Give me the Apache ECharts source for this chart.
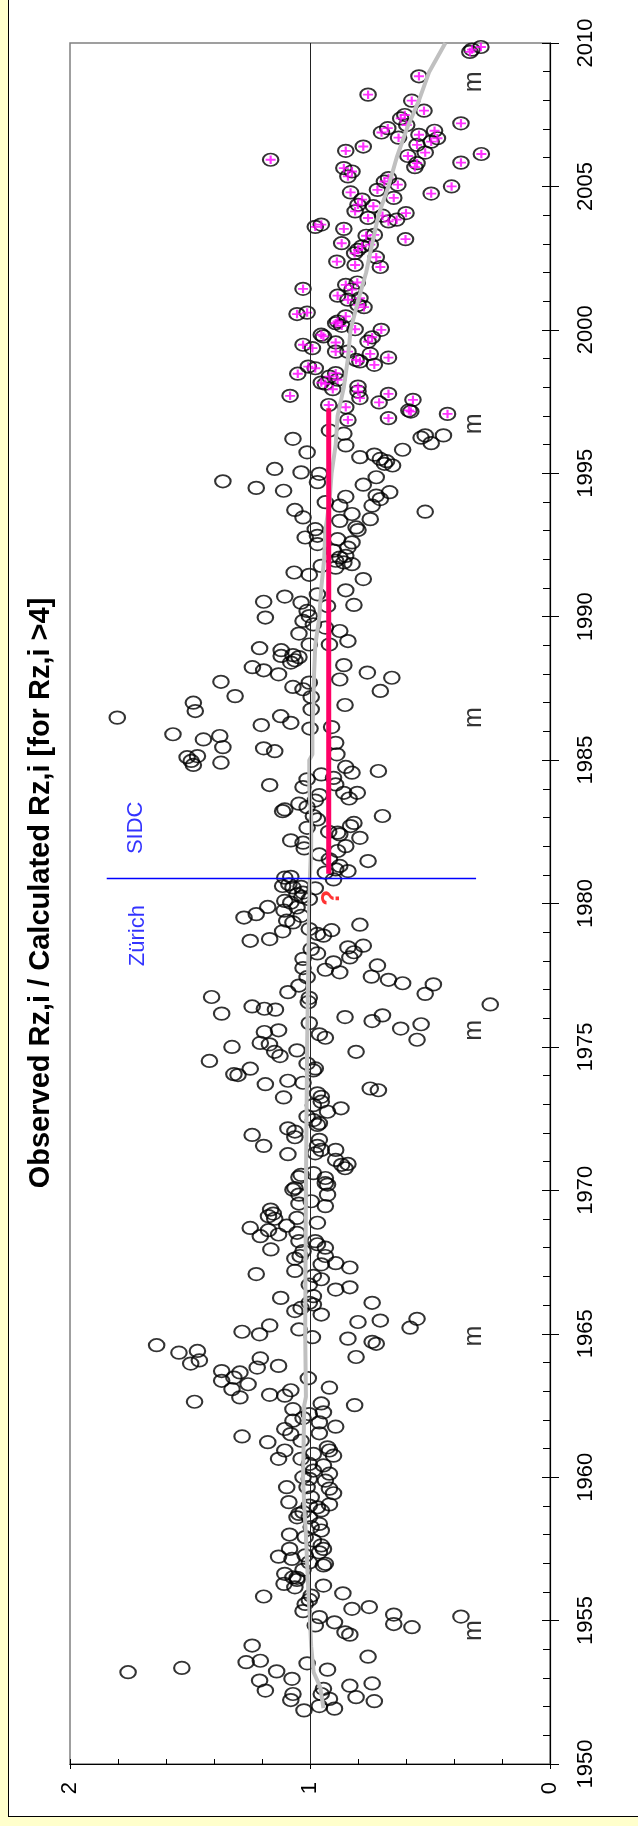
<!DOCTYPE html>
<html>
<head>
<meta charset="utf-8">
<script src="https://cdn.jsdelivr.net/npm/echarts@6/dist/echarts.min.js"></script>
<style>
  html, body { margin: 0; padding: 0; background: #FFFFCC; }
  #frame { position: absolute; left: 8px; top: -4px; width: 660px; height: 1821px; background: #ffffff; border: 1px solid #000; box-sizing: border-box; }
  #chart { position: absolute; left: 0; top: 0; width: 638px; height: 1826px; }
</style>
</head>
<body>
<div id="frame"></div>
<div id="chart"></div>
<script>
// ---- Data: [year, observed/calculated ratio] ----
// Months with magenta "+" (recent SIDC values)
const obsPlus = [
 [2009.77,0.325],[2009.86,0.288],[2009.69,0.334],[2008.84,0.546],[2008.20,0.758],[2007.99,0.576],[2007.64,0.525],
 [2007.49,0.605],[2007.37,0.622],[2007.14,0.597],[2007.20,0.371],[2006.88,0.702],[2007.03,0.676],[2006.94,0.481],
 [2006.70,0.631],[2006.80,0.546],[2006.45,0.554],[2006.56,0.495],[2006.68,0.469],[2006.39,0.778],[2006.24,0.851],
 [2006.18,0.520],[2006.13,0.286],[2006.06,0.592],[2005.81,0.554],[2005.67,0.563],[2005.93,1.164],[2005.64,0.859],
 [2005.52,0.825],[2005.35,0.842],[2005.83,0.371],[2005.29,0.673],[2005.17,0.690],[2005.06,0.634],[2005.00,0.410],
 [2004.79,0.831],[2004.88,0.719],[2004.75,0.495],[2004.60,0.651],[2004.54,0.783],[2004.36,0.800],[2004.13,0.812],
 [2004.31,0.736],[2004.07,0.600],[2003.90,0.758],[2003.98,0.698],[2003.78,0.673],[2003.84,0.639],[2003.59,0.978],
 [2003.67,0.953],[2003.52,0.859],[2003.16,0.602],[2003.02,0.868],[2003.28,0.766],[2003.31,0.732],[2002.79,0.800],
 [2002.67,0.814],[2002.91,0.783],[2002.97,0.749],[2002.53,0.724],[2002.19,0.707],[2002.38,0.888],[2002.26,0.812],
 [2001.43,1.029],[2001.65,0.803],[2001.57,0.851],[2001.40,0.825],[2001.19,0.885],[2001.05,0.842],[2001.10,0.792],
 [2000.79,0.775],[2000.87,0.800],[2000.55,1.054],[2000.60,1.012],[2000.47,0.851],[2000.29,0.885],[2000.14,0.868],
 [2000.23,0.893],[2000.02,0.812],[2000.00,0.703],[1999.83,0.953],[1999.77,0.944],[1999.74,0.741],[1999.59,0.758],
 [1999.48,1.029],[1999.36,0.990],[1999.56,0.893],[1999.24,0.893],[1999.24,0.842],[1999.16,0.749],[1999.03,0.673],
 [1998.95,0.808],[1998.90,0.792],[1998.78,0.732],[1998.72,1.007],[1998.66,0.978],[1998.47,1.051],[1998.37,0.919],
 [1998.49,0.893],[1998.26,0.885],[1998.16,0.953],[1998.12,0.936],[1997.93,0.905],[1998.02,0.800],[1997.85,0.800],
 [1997.62,0.792],[1997.70,1.083],[1997.77,0.673],[1997.47,0.712],[1997.56,0.571],[1997.38,0.922],[1997.30,0.851],
 [1997.19,0.588],[1997.15,0.580],[1997.07,0.427],[1996.92,0.673],[1996.86,0.842]
];
// Other months (circles only)
const obsCircle = [
 [1996.49,0.919],[1996.38,0.859],[1995.97,0.851],[1996.32,0.520],[1996.05,0.495],[1996.32,0.444],[1996.24,0.537],
 [1996.20,1.071],[1995.73,1.012],[1995.82,0.614],[1995.56,0.792],[1995.65,0.732],[1995.50,0.707],[1995.42,0.681],
 [1995.27,0.656],[1995.33,0.690],[1995.15,1.147],[1995.03,1.037],[1994.98,0.961],[1994.69,0.969],[1994.72,1.363],
 [1994.49,1.224],[1994.39,1.110],[1994.86,0.724],[1994.60,0.778],[1994.34,0.668],[1994.22,0.724],[1994.10,0.707],
 [1994.18,0.851],[1993.99,0.936],[1993.87,0.876],[1993.87,0.741],[1993.66,0.520],[1993.72,1.063],[1993.46,1.029],
 [1993.58,0.825],[1993.34,0.876],[1993.40,0.749],[1993.11,0.808],[1993.02,0.800],[1993.05,0.978],[1992.82,0.969],
 [1992.76,1.020],[1992.70,0.885],[1992.59,0.825],[1992.41,0.842],[1992.53,0.969],[1992.30,0.902],[1992.06,0.876],
 [1992.12,0.851],[1991.95,0.893],[1991.89,0.859],[1991.83,0.825],[1991.77,0.953],[1991.71,0.893],[1991.54,1.066],
 [1991.46,1.003],[1991.31,0.778],[1990.92,0.851],[1990.78,0.969],[1990.37,0.927],[1990.70,1.105],[1990.52,1.193],
 [1990.49,1.037],[1990.20,1.012],[1990.02,1.003],[1989.85,1.029],[1990.41,0.817],[1989.97,1.186],[1989.73,0.986],
 [1989.62,0.936],[1989.50,0.876],[1989.15,0.842],[1989.41,1.046],
 [1988.90,1.210],[1988.83,1.120],[1988.63,1.120],[1988.66,1.071],[1988.59,1.046],[1988.40,1.080],[1988.48,1.063],
 [1989.03,1.003],[1989.03,0.919],[1988.24,1.240],[1988.13,1.193],[1987.99,1.131],[1988.31,0.859],[1988.05,0.761],
 [1987.87,0.659],[1987.81,0.876],[1987.73,1.371],[1987.55,1.071],[1987.47,1.029],[1987.70,1.003],[1987.20,0.995],
 [1987.41,0.707],[1987.23,1.312],[1987.00,1.486],[1986.71,1.478],[1986.77,0.995],[1986.92,0.854],[1986.48,1.803],
 [1986.53,1.122],[1986.30,1.080],[1986.22,1.203],[1986.10,1.000],[1986.15,0.910],[1985.90,1.571],[1985.72,1.444],
 [1985.84,1.376],[1985.45,1.363],[1985.60,0.893],[1985.20,0.888],[1985.41,1.193],[1985.31,1.147],[1985.10,1.512],
 [1984.97,1.495],[1985.14,1.469],[1984.83,1.486],[1984.91,1.371],[1984.76,0.851],[1984.56,0.825],[1984.62,0.715],
 [1984.50,0.953],[1984.38,0.902],[1984.33,1.012],[1984.15,0.893],[1984.06,1.029],[1984.13,1.168],[1983.86,0.859],
 [1983.86,0.803],[1983.66,0.837],[1983.78,0.961],[1983.59,0.978],[1983.48,1.046],[1983.28,1.105],[1983.22,1.114],
 [1983.36,1.012],[1983.05,0.986],[1982.93,0.969],[1983.05,0.698],[1982.81,0.817],[1982.70,0.831],[1982.64,1.012],
 [1982.50,0.922],[1982.47,0.885],[1982.41,0.876],[1982.29,0.792],[1982.00,0.851],[1982.20,1.080],[1982.12,1.029],
 [1981.92,1.024],[1981.71,0.961],[1981.83,0.885],[1981.48,0.758],
 [1981.54,0.919],[1981.31,0.876],[1981.13,0.842],[1981.19,0.893],[1980.84,0.902],[1981.08,0.936],[1980.53,0.978],
 [1980.90,1.105],[1980.93,1.080],[1980.61,1.114],[1980.67,1.088],[1980.56,1.071],[1980.58,1.037],[1980.32,1.054],
 [1980.38,1.029],[1980.15,1.003],[1980.09,1.105],[1980.03,1.080],[1979.86,1.054],[1980.23,1.034],[1979.51,1.275],
 [1979.63,1.224],[1979.88,1.176],[1979.75,1.108],[1979.40,1.097],[1979.34,1.071],[1979.57,1.037],[1979.26,0.792],
 [1979.11,1.003],[1978.88,0.944],[1979.07,0.910],[1978.94,0.969],[1978.70,1.249],[1978.76,1.168],[1979.03,1.114],
 [1978.41,0.995],[1978.47,0.842],[1978.30,0.817],[1978.12,0.834],[1978.53,0.778],[1978.07,1.029],[1978.26,0.969],
 [1977.75,1.029],[1977.95,0.902],[1977.69,0.936],[1977.60,0.876],[1977.84,0.719],[1977.45,0.744],[1977.34,0.673],
 [1977.22,0.614],[1977.43,1.012],[1977.14,1.046],[1976.91,1.092],[1977.18,0.486],[1976.85,0.520],[1976.74,1.410],
 [1976.71,1.003],[1976.56,1.007],[1976.41,1.241],[1976.33,1.190],[1976.30,1.144],[1976.16,1.368],[1976.48,0.249],
 [1976.04,0.854],[1975.90,0.741],[1976.10,0.698],[1975.83,1.003],[1975.64,0.622],[1975.79,0.537],[1975.25,0.554],
 [1975.52,1.190],[1975.58,1.131],[1975.44,0.961],[1975.32,0.936],[1975.14,1.207],[1975.09,1.169],[1975.00,1.325],
 [1974.88,1.054],[1974.83,0.808],[1974.83,1.147],[1974.68,1.125],[1974.51,1.419],[1974.42,1.012],[1974.25,0.978],
 [1974.05,1.317],[1974.02,1.300],[1974.24,1.249],[1973.70,1.186],[1973.82,1.092],[1973.75,1.029],[1974.18,0.986],
 [1973.24,1.110],[1973.55,0.749],[1973.49,0.715],[1973.38,0.969],[1973.26,0.953],[1972.97,0.986],[1973.09,0.953],
 [1972.86,0.871],[1972.74,0.927],[1972.57,1.012],[1972.45,0.986],[1972.34,0.961],[1972.28,0.969],[1971.93,1.241],
 [1971.55,1.193],[1972.16,1.092],[1972.05,1.063],[1971.85,1.063],[1971.76,0.961],[1971.55,0.969],[1971.29,0.978],
 [1971.41,0.953],[1971.26,1.092],[1971.41,0.893],[1971.06,0.893],[1970.89,0.868],[1970.92,0.842],[1970.77,0.854],
 [1970.54,1.037],[1970.46,1.046],[1970.60,0.986],[1970.43,0.936],[1970.25,0.936],[1970.20,0.927],[1970.08,1.063],
 [1970.02,1.071],[1969.85,1.046],[1969.85,0.927],[1969.45,0.936],[1969.54,1.046],[1969.62,0.995],[1969.33,1.164],
 [1969.19,1.153],[1969.10,1.173],[1969.01,1.147],[1969.04,1.054],[1968.87,0.969],[1968.69,1.249],[1968.40,1.207],
 [1968.61,1.173],[1968.46,1.131],[1968.77,1.097],[1968.52,1.054],[1968.23,1.046],[1968.23,0.978],[1968.12,0.969],
 [1968.00,0.936],[1967.94,1.163],[1967.88,1.029],[1967.62,1.063],[1967.71,1.041],[1967.71,0.936],[1967.42,0.953],
 [1967.46,0.893],[1967.31,0.834],[1967.08,1.224],[1967.19,1.063],[1967.02,0.986],[1966.90,0.953],
 [1966.54,0.893],[1966.62,0.834],[1966.71,1.003],[1966.25,1.122],[1966.31,0.986],[1966.08,1.003],[1966.08,0.741],
 [1965.79,1.063],[1965.90,1.037],[1966.02,0.986],[1965.67,0.953],[1965.41,0.800],[1965.46,0.707],[1965.21,0.583],
 [1965.52,0.554],[1965.29,1.168],[1965.07,1.283],[1964.98,1.210],[1965.15,1.046],[1964.88,0.990],[1964.83,0.842],
 [1964.72,0.741],[1964.65,0.724],[1964.60,1.639],[1964.34,1.546],[1964.40,1.469],[1963.96,1.497],[1964.07,1.461],
 [1964.19,0.808],[1964.14,1.207],[1963.82,1.220],[1963.88,1.131],[1963.70,1.368],[1963.65,1.292],[1963.47,1.317],
 [1963.36,1.368],[1963.24,1.258],[1963.07,1.325],[1962.78,1.292],[1962.63,1.481],[1963.45,1.007],[1963.12,0.919],
 [1962.87,1.168],[1962.84,1.105],[1963.03,1.080],[1962.51,0.814],[1962.57,0.953],[1962.26,0.944],[1962.37,1.071],
 [1962.20,1.003],[1962.06,1.029],[1961.97,1.071],[1961.68,1.105],[1961.50,1.080],[1961.91,0.961],[1961.76,0.893],
 [1961.53,0.961],[1961.42,1.283],[1961.22,1.176],[1961.27,1.037],[1961.04,0.927],[1960.93,0.919],[1960.75,0.902],
 [1960.93,1.105],[1960.64,1.131],[1960.81,0.986],[1960.64,1.037],[1960.46,1.003],[1960.23,0.986],[1960.41,0.944],
 [1960.12,0.919],[1960.00,1.029],[1959.94,1.003],[1959.88,0.936],[1959.65,1.097],[1959.60,0.919],[1959.65,1.012],
 [1959.44,0.902],[1959.13,1.088],[1959.30,0.995],[1959.01,1.003],[1959.05,0.919],[1958.84,0.953],[1958.78,1.029],
 [1958.72,1.046],[1958.95,0.969],[1958.60,1.054],[1958.60,1.003],[1958.37,0.961],[1958.26,0.995],[1958.14,0.953],
 [1958.00,1.085],[1957.91,1.020],[1957.79,0.986],[1957.62,0.953],[1957.38,0.961],[1957.50,0.944],[1957.50,1.085],
 [1957.23,1.131],[1957.15,1.075],[1957.27,1.020],[1957.03,1.003],[1956.98,0.936],[1956.92,0.944],[1956.63,1.105],
 [1956.51,1.071],[1956.42,1.054],[1956.77,1.029],[1956.28,1.108],[1956.16,1.063],[1956.49,1.054],[1956.22,0.944],
 [1955.95,0.863],[1955.84,1.193],[1955.87,0.995],[1955.72,1.003],[1955.58,1.020],[1955.33,1.029],[1955.41,0.825],
 [1955.47,0.753],[1955.21,0.651],[1954.88,0.651],[1954.77,0.575],[1955.14,0.371],[1955.12,0.961],[1954.83,0.978],
 [1954.94,0.898],[1954.59,0.854],[1954.51,0.834],[1954.13,1.241],[1953.74,0.758],[1953.55,1.266],[1953.60,1.207],
 [1953.51,1.012],[1953.20,1.758],[1953.35,1.534],[1953.23,1.139],[1953.29,0.927],[1952.97,1.075],[1952.91,1.210],
 [1952.56,1.186],[1952.73,0.834],[1952.81,0.741],[1952.62,0.944],[1952.44,0.953],[1952.44,1.071],[1952.33,0.808],
 [1952.19,0.732],[1952.27,0.919],[1952.23,1.080],[1951.87,1.025],[1952.02,0.961],[1951.93,0.898]
];
// Smoothed trend (grey line)
const trendYears  = [1951.95,1952.7,1953.2,1954.1,1955,1956,1957,1958,1959,1960,1962.5,1962.8,1965,1970,1975,1978,1980,1981,1982,1983,1984,1985,1985.2,1986,1987,1988,1989,1990,1991,1992,1993,1994,1995,1996,1997,1998,1999,2000,2001,2002,2003,2004,2005,2006,2007,2008,2009,2010];
const trendRatios = [0.944,0.958,0.985,0.995,1.000,1.007,1.012,1.017,1.024,1.029,1.024,1.017,1.020,1.017,1.012,1.007,1.003,1.000,0.995,0.995,1.003,1.003,0.990,0.990,0.986,0.983,0.978,0.961,0.953,0.941,0.936,0.919,0.910,0.893,0.885,0.859,0.842,0.831,0.800,0.766,0.741,0.715,0.673,0.639,0.597,0.546,0.503,0.436];
// SIDC level segment (red) and Zürich/SIDC boundary (blue)
const sidcLevelRatio = 0.922;
const sidcLevelYears = [1981.04, 1997.27];
const boundaryYear = 1980.87;
const boundaryRatios = [1.847, 0.308];
// Solar minima markers "m"
const minimaYears = [1954.65, 1964.92, 1975.58, 1986.48, 1996.72, 2008.65];
const minimaRatio = 0.317;
// Text annotations
const annotTexts  = ['Zürich', 'SIDC'];
const annotYears  = [1978.88, 1982.64];
const annotRatios = [1.715, 1.724];
const questionPoint = [0.907, 1980.2];
const titleText = 'Observed Rz,i / Calculated Rz,i [for Rz,i >4]';
const yearTicks = { min: 1950, max: 2010, step: 5 };
const ratioTicks = { min: 0, max: 2, step: 1 };

const FONT = '"Liberation Sans", Arial, sans-serif';
const chart = echarts.init(document.getElementById('chart'), null, { renderer: 'canvas' });

const grid = { left: 70, right: 88, top: 43, bottom: 62, show: true, borderColor: '#808080', borderWidth: 1.5, backgroundColor: 'transparent' };

function xAx(extra) {
  return Object.assign({
    type: 'value', min: ratioTicks.min, max: ratioTicks.max, interval: ratioTicks.step, inverse: true, position: 'bottom',
    splitLine: { show: false }
  }, extra);
}
function yAx(extra) {
  return Object.assign({
    type: 'value', min: yearTicks.min, max: yearTicks.max, interval: yearTicks.step, position: 'right',
    splitLine: { show: false }
  }, extra);
}

const circleStyle = { color: 'rgba(0,0,0,0)', borderColor: '#000', borderWidth: 1.9 };

const option = {
  animation: false,
  backgroundColor: 'transparent',
  grid: grid,
  xAxis: [
    xAx({
      axisLine: { show: true, lineStyle: { color: '#000', width: 1.2 } },
      axisTick: { show: true, inside: true, length: 5, lineStyle: { color: '#000', width: 1 } },
      minorTick: { show: true, splitNumber: 5, length: 5, lineStyle: { color: '#000', width: 1 } },
      axisLabel: { show: true, rotate: 90, margin: 18, fontSize: 22, color: '#000', fontFamily: FONT }
    }),
    xAx({
      axisLine: { show: false },
      axisTick: { show: true, inside: false, length: 5, lineStyle: { color: '#000', width: 1 } },
      axisLabel: { show: false }
    })
  ],
  yAxis: [
    yAx({
      axisLine: { show: true, lineStyle: { color: '#000', width: 1.2 } },
      axisTick: { show: true, inside: true, length: 8, lineStyle: { color: '#000', width: 1 } },
      minorTick: { show: true, splitNumber: 5, length: 7, lineStyle: { color: '#000', width: 1 } },
      axisLabel: { show: true, rotate: 90, margin: 25, fontSize: 22, color: '#000', fontFamily: FONT,
                   formatter: v => String(v) }
    }),
    yAx({
      axisLine: { show: false },
      axisTick: { show: true, inside: false, length: 9, lineStyle: { color: '#000', width: 1 } },
      axisLabel: { show: false }
    })
  ],
  graphic: [{
    type: 'text', x: 41, y: 893, rotation: Math.PI / 2, silent: true,
    style: { text: titleText, align: 'center', verticalAlign: 'middle', fontSize: 29, fontWeight: 'bold', fill: '#000', fontFamily: FONT }
  }],
  series: [
    { // reference line at ratio = 1
      type: 'line', data: [], silent: true, z: 1,
      markLine: { symbol: 'none', silent: true, label: { show: false },
        lineStyle: { color: '#222', width: 1, type: 'solid' }, data: [{ xAxis: 1 }] }
    },
    { type: 'scatter', name: 'obs', silent: true, z: 2, symbol: 'circle', symbolSize: [15.5, 12.5],
      itemStyle: circleStyle, data: obsCircle.map(p => [p[1], p[0]]) },
    { type: 'scatter', name: 'obsPlusCircle', silent: true, z: 2, symbol: 'circle', symbolSize: [15.5, 12.5],
      itemStyle: circleStyle, data: obsPlus.map(p => [p[1], p[0]]) },
    { type: 'scatter', name: 'plus', silent: true, z: 3, symbol: 'path://M0,5L10,5M5,0L5,10', symbolSize: [10, 8.5],
      itemStyle: { color: 'rgba(0,0,0,0)', borderColor: '#FF00FF', borderWidth: 2 }, data: obsPlus.map(p => [p[1], p[0]]) },
    { type: 'line', name: 'trend', silent: true, z: 4, symbol: 'none', smooth: false,
      lineStyle: { color: '#C0C0C0', width: 4 }, data: trendYears.map((y, i) => [trendRatios[i], y]) },
    { type: 'line', name: 'sidcLevel', silent: true, z: 5, symbol: 'none',
      lineStyle: { color: '#FF0066', width: 5 }, data: sidcLevelYears.map(y => [sidcLevelRatio, y]) },
    { type: 'line', name: 'boundary', silent: true, z: 5, symbol: 'none',
      lineStyle: { color: '#0000FF', width: 1.5 }, data: boundaryRatios.map(r => [r, boundaryYear]) },
    { type: 'scatter', name: 'minima', silent: true, z: 6, symbolSize: 0,
      label: { show: true, position: 'inside', formatter: 'm', rotate: 90, fontSize: 25, color: '#000', fontFamily: FONT },
      data: minimaYears.map(y => [minimaRatio, y]) },
    { type: 'scatter', name: 'annot', silent: true, z: 6, symbolSize: 0,
      label: { show: true, position: 'inside', formatter: p => annotTexts[p.dataIndex], rotate: 90, fontSize: 22, color: '#0000FF', fontFamily: FONT },
      data: annotYears.map((y, i) => [annotRatios[i], y]) },
    { type: 'scatter', name: 'question', silent: true, z: 6, symbolSize: 0,
      label: { show: true, position: 'inside', formatter: '?', rotate: 90, fontSize: 26, fontWeight: 'bold', color: '#FF0000', fontFamily: FONT },
      data: [questionPoint] }
  ]
};
chart.setOption(option);
</script>
</body>
</html>
